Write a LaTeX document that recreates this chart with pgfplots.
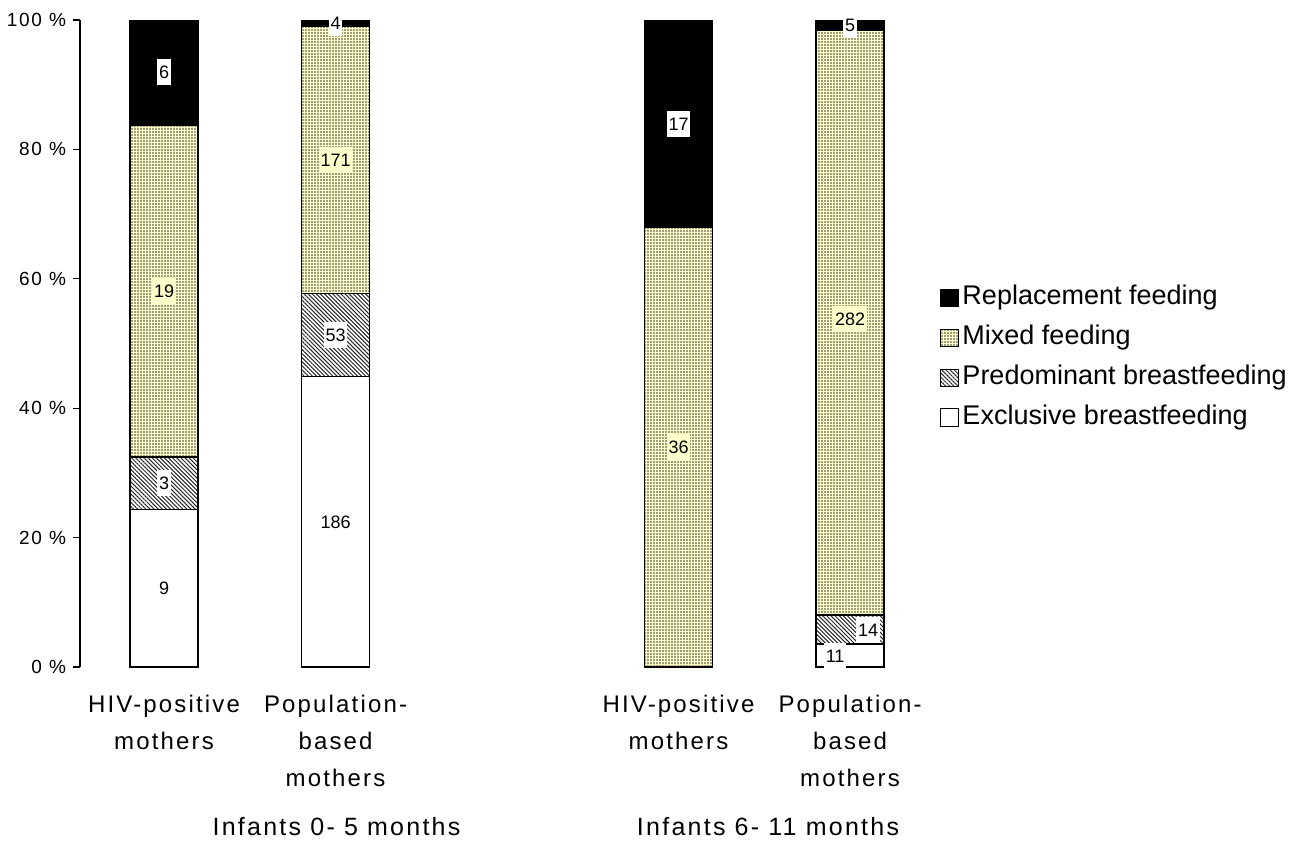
\documentclass[border=0pt]{standalone}
\usepackage{fontspec}
\setmainfont{Liberation Sans}
\newfontfamily\spaced[LetterSpace=9]{Liberation Sans}
\usepackage{pgfplots}
\pgfplotsset{compat=1.18}
\usetikzlibrary{patterns,patterns.meta}
\definecolor{mixfill}{RGB}{255,255,204}
\definecolor{dotcol}{RGB}{60,60,40}
\tikzset{lab/.style={font=\fontsize{9}{11}\selectfont, inner xsep=0.8pt, inner ysep=0pt, text height=9.7pt, text depth=3.3pt, fill=white, text=black}}
\begin{document}
\begin{tikzpicture}
\begin{axis}[
  scale only axis,
  width=427.9pt, height=323.5pt,
  xmin=-0.49, xmax=4.5, ymin=0, ymax=100,
  ybar stacked, bar width=34pt,
  axis lines*=left,
  x axis line style={draw=none},
  xtick={0,1,3,4},
  xticklabels={{HIV-positive\\mothers},{Population-\\based\\mothers},{HIV-positive\\mothers},{Population-\\based\\mothers}},
  x tick style={draw=none},
  x tick label style={align=center, font=\spaced\fontsize{12}{18.5}\selectfont, yshift=-7pt},
  ytick={0,20,40,60,80,100},
  yticklabel={\pgfmathprintnumber{\tick} \%},
  /pgf/number format/assume math mode=true,
  yticklabel style={font=\spaced\fontsize{9.5}{11}\selectfont},
  tick align=outside, major tick length=3.5pt,
  y axis line style={line width=0.6pt, -},
  y tick style={line width=0.6pt, black},
  every axis plot/.append style={draw=black, line width=0.8pt},
  legend image code/.code={\draw[#1, line width=0.5pt] (0pt,-4.3pt) rectangle (9pt,4.3pt);},
  reverse legend,
  legend cell align=left,
  legend style={draw=none, fill=none, inner sep=0pt, at={(1.005,0.478)}, anchor=west,
    font=\fontsize{13.5}{16}\selectfont, row sep=4.2pt,
    nodes={inner sep=1.5pt, text height=9.8pt, text depth=2.9pt}},
]
\addplot[fill=white] coordinates {(0,24.32) (1,44.93) (3,0) (4,3.53)};
\addlegendentry{Exclusive breastfeeding}
\addplot[fill=white, postaction={pattern={Lines[angle=-45,distance=1.45pt,line width=0.5pt]}, pattern color=black!85}] coordinates {(0,8.11) (1,12.80) (3,0) (4,4.49)};
\addlegendentry{Predominant breastfeeding}
\addplot[fill=mixfill, postaction={pattern={Dots[distance=1.5pt,radius=0.4pt]}, pattern color=dotcol}] coordinates {(0,51.35) (1,41.30) (3,67.92) (4,90.38)};
\addlegendentry{Mixed feeding}
\addplot[fill=black] coordinates {(0,16.22) (1,0.97) (3,32.08) (4,1.60)};
\addlegendentry{Replacement feeding}
\coordinate (a1) at (axis cs:0,12.16);
\coordinate (a2) at (axis cs:0,28.38);
\coordinate (a3) at (axis cs:0,58.11);
\coordinate (a4) at (axis cs:0,91.89);
\coordinate (b1) at (axis cs:1,22.46);
\coordinate (b2) at (axis cs:1,51.33);
\coordinate (b3) at (axis cs:1,78.38);
\coordinate (b4) at (axis cs:1,99.52);
\coordinate (c3) at (axis cs:3,33.96);
\coordinate (c4) at (axis cs:3,83.96);
\coordinate (d1) at (axis cs:3.913,1.76);
\coordinate (d2) at (axis cs:4.105,5.77);
\coordinate (d3) at (axis cs:4,53.72);
\coordinate (d4) at (axis cs:4,99.2);
\end{axis}
\node[lab] at (a1) {9};
\node[lab] at (a2) {3};
\node[lab, fill=mixfill] at (a3) {19};
\node[lab] at (a4) {6};
\node[lab] at (b1) {186};
\node[lab] at (b2) {53};
\node[lab, fill=mixfill] at (b3) {171};
\node[lab] at (b4) {4};
\node[lab, fill=mixfill] at (c3) {36};
\node[lab] at (c4) {17};
\node[lab] at (d1) {11};
\node[lab] at (d2) {14};
\node[lab, fill=mixfill] at (d3) {282};
\node[lab] at (d4) {5};
\node[anchor=base, font=\spaced\fontsize{12.5}{14}\selectfont] at (128.25pt,-84pt) {Infants 0- 5 months};
\node[anchor=base, font=\spaced\fontsize{12.5}{14}\selectfont] at (344pt,-84pt) {Infants 6- 11 months};
\pgfresetboundingbox
\path (-40pt,-88pt) rectangle (609.5pt,333.5pt);
\end{tikzpicture}
\end{document}
